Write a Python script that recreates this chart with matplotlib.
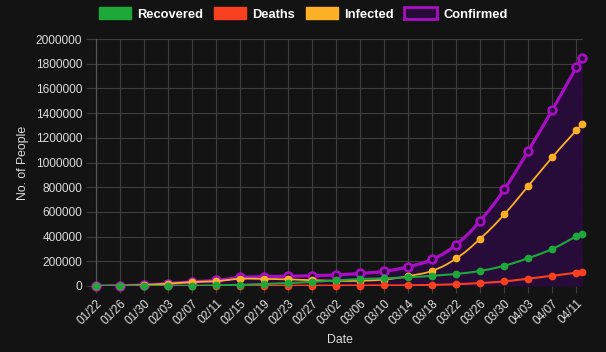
import matplotlib
matplotlib.use("Agg")
import matplotlib.pyplot as plt
from matplotlib.patches import Patch
import numpy as np
import pandas as pd


DATES = ["01/22", "01/26", "01/30", "02/03", "02/07", "02/11", "02/15", "02/19",
         "02/23", "02/27", "03/02", "03/06", "03/10", "03/14", "03/18", "03/22",
         "03/26", "03/30", "04/03", "04/07", "04/11", "04/12"]
RECOVERED = [28, 52, 143, 623, 1540, 5150, 9395, 16155, 23394, 33277, 45602, 55865,
             62494, 70251, 82813, 97882, 122150, 164566, 225796, 300054, 402110, 421722]
DEATHS = [17, 56, 171, 426, 719, 1115, 1526, 2122, 2469, 2810, 3112, 3460,
          4262, 5819, 8733, 14634, 23970, 37582, 59120, 82000, 108500, 114090]
INFECTED = [510, 2010, 7920, 18832, 32133, 38906, 58111, 57362, 53493, 47025, 41592, 42475,
            52289, 80031, 123364, 223439, 383471, 580217, 811001, 1044042, 1260904, 1310868]
CONFIRMED = [555, 2118, 8234, 19881, 34392, 45171, 69032, 75639, 79356, 83112, 90306, 101800,
             119045, 156101, 214910, 335955, 529591, 782365, 1095917, 1426096, 1771514, 1846680]
Y_MAX = 2000000

BG = "#131313"
GRID = "#3e3e3e"
TEXT = "#dcdcdc"
C_REC = "#1fa83a"
C_DEA = "#f8401f"
C_INF = "#fbb025"
C_CON = "#a80fc2"
C_FILL = "#270b39"

W, H = 606, 352
AX_L, AX_R, AX_T, AX_B = 96, 583, 39, 286


def spline(xs, ys, sx, sy, tension=0.4, n=20):
    # chart.js style bezier smoothing, computed in pixel space
    p = np.column_stack([np.asarray(xs, float) * sx, np.asarray(ys, float) * sy])
    m = len(p)
    cpa = np.zeros_like(p)
    cpb = np.zeros_like(p)
    for i in range(m):
        prev = p[max(i - 1, 0)]
        nxt = p[min(i + 1, m - 1)]
        d01 = np.hypot(*(p[i] - prev))
        d12 = np.hypot(*(nxt - p[i]))
        tot = d01 + d12
        fa = tension * d01 / tot if tot else 0.0
        fb = tension * d12 / tot if tot else 0.0
        cpa[i] = p[i] - fa * (nxt - prev)
        cpb[i] = p[i] + fb * (nxt - prev)
    cpa[:, 1] = np.clip(cpa[:, 1], 0, Y_MAX * sy)
    cpb[:, 1] = np.clip(cpb[:, 1], 0, Y_MAX * sy)
    t = np.linspace(0, 1, n)[:, None]
    segs = []
    for i in range(m - 1):
        b = ((1 - t) ** 3 * p[i] + 3 * (1 - t) ** 2 * t * cpb[i]
             + 3 * (1 - t) * t ** 2 * cpa[i + 1] + t ** 3 * p[i + 1])
        segs.append(b if i == 0 else b[1:])
    out = np.vstack(segs)
    return out[:, 0] / sx, out[:, 1] / sy


dates = pd.to_datetime(["2020/" + d for d in DATES])
x = np.array((dates - dates[0]).days, dtype=float)

fig = plt.figure(figsize=(W / 100, H / 100), dpi=100, facecolor=BG)
ax = fig.add_axes([AX_L / W, 1 - AX_B / H, (AX_R - AX_L) / W, (AX_B - AX_T) / H])
ax.set_facecolor(BG)

sx = (AX_R - AX_L) / (x[-1] - x[0] + 0.1)
sy = (AX_B - AX_T) / Y_MAX

series = [
    ("Recovered", RECOVERED, C_REC, 1.5, 6),
    ("Deaths", DEATHS, C_DEA, 1.5, 5),
    ("Infected", INFECTED, C_INF, 1.3, 4),
    ("Confirmed", CONFIRMED, C_CON, 2.3, 3),
]

for name, vals, color, lw, z in series:
    cx, cy = spline(x, vals, sx, sy)
    if name == "Confirmed":
        ax.fill_between(cx, 0, cy, color=C_FILL, lw=0, zorder=1)
        ax.plot(cx, cy, color=color, lw=lw, zorder=z, solid_capstyle="round")
        ax.plot(x, vals, "o", ms=5.6, mfc=C_FILL, mec=color, mew=1.9,
                zorder=z + 0.5, clip_on=False)
    else:
        ax.plot(cx, cy, color=color, lw=lw, zorder=z)
        ax.plot(x, vals, "o", ms=5.6, mfc=color, mec=color, mew=0,
                zorder=z + 0.5, clip_on=False)

ax.set_xlim(x[0], x[-1] + 0.1)
ax.set_ylim(0, Y_MAX)
ax.set_xticks(x[:-1])
ax.set_xticklabels(DATES[:-1], rotation=45, ha="right", rotation_mode="anchor",
                   color=TEXT, fontsize=8.6, fontfamily="Liberation Sans")
ax.set_yticks(np.arange(0, Y_MAX + 1, 200000))
ax.set_yticklabels([str(v) for v in range(0, Y_MAX + 1, 200000)],
                   color=TEXT, fontsize=8.6, fontfamily="Liberation Sans")
ax.tick_params(axis="y", length=7, width=0.8, color=GRID, pad=3)
ax.tick_params(axis="x", length=5, width=0.8, color=GRID, pad=3)
ax.grid(True, color=GRID, lw=0.8, zorder=0)
ax.set_axisbelow(True)
for s in ["top", "right", "bottom"]:
    ax.spines[s].set_visible(False)
ax.spines["left"].set_color("#555555")
ax.spines["left"].set_linewidth(0.9)

ax.set_xlabel("Date", color=TEXT, fontsize=8.8, fontfamily="Liberation Sans", labelpad=5)
ax.set_ylabel("No. of People", color=TEXT, fontsize=8.8, fontfamily="Liberation Sans", labelpad=4.5)

handles = [
    Patch(facecolor=C_REC, edgecolor=C_REC, label="Recovered"),
    Patch(facecolor=C_DEA, edgecolor=C_DEA, label="Deaths"),
    Patch(facecolor=C_INF, edgecolor=C_INF, label="Infected"),
    Patch(facecolor=C_FILL, edgecolor=C_CON, lw=2, label="Confirmed"),
]
fig.legend(handles=handles, loc="center", bbox_to_anchor=(0.5, 1 - 14 / H), ncol=4,
           frameon=False, handlelength=2.5, handleheight=1.05, handletextpad=0.5,
           columnspacing=0.8, borderaxespad=0,
           prop={"family": "Liberation Sans", "weight": "bold", "size": 9.3},
           labelcolor="white")

fig.savefig("out.png", dpi=100, facecolor=BG)
